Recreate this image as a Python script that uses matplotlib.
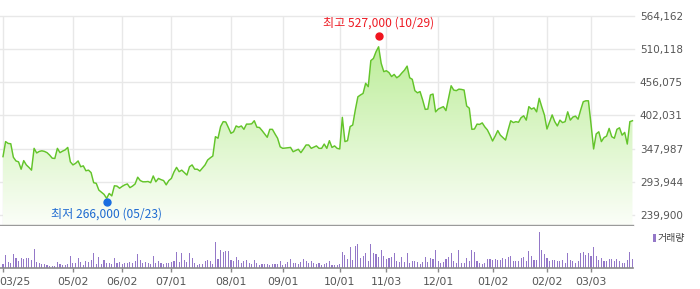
import numpy as np
import matplotlib
matplotlib.use("Agg")
import matplotlib.pyplot as plt
import matplotlib.transforms as mtransforms
from matplotlib.colors import LinearSegmentedColormap
from matplotlib.patches import Rectangle

# ---------------- data ----------------
tick_labels = ["03/25", "05/02", "06/02", "07/01", "08/01", "09/01",
               "10/01", "11/03", "12/01", "01/02", "02/02", "03/03"]
tick_index = [0, 27, 46, 65, 88, 108, 130, 148, 168, 189, 210, 227]

y_ticks = [239900, 293944, 347987, 402031, 456075, 510118, 564162]

close = [
    335000, 359500, 356500, 356000, 334000, 328000, 326500, 314500, 328500, 321500,
    317500, 313000, 348500, 341000, 343500, 344500, 343500, 341500, 337500, 332500,
    332000, 348500, 341500, 344000, 346000, 350000, 326500, 321500, 324000, 328000,
    318500, 320000, 312000, 313000, 309000, 292500, 291500, 280500, 277000, 273500,
    267000, 275000, 271000, 287500, 287000, 283500, 286500, 289000, 290500, 284500,
    287000, 290500, 301500, 296000, 294000, 294000, 294500, 292500, 303500, 294000,
    299500, 297500, 296000, 289000, 296000, 299500, 310000, 317500, 310500, 313000,
    309000, 305000, 318500, 321500, 314500, 314500, 311500, 316500, 321500, 329500,
    333000, 336000, 367500, 365000, 384000, 392000, 391500, 382500, 373000, 375500,
    385000, 383000, 385000, 379500, 388000, 388000, 388500, 393500, 383000, 382500,
    377500, 372000, 366500, 379500, 379500, 372000, 365000, 351000, 348500, 349000,
    349500, 350000, 343000, 345000, 347000, 341500, 347500, 354000, 354000, 348500,
    350500, 352500, 348500, 348500, 355500, 348500, 361000, 350000, 352500, 348500,
    347500, 399000, 359500, 361000, 384000, 386500, 411000, 432500, 435500, 438000,
    454500, 449000, 491500, 495000, 506000, 514000, 487000, 473500, 475000, 472000,
    465500, 469000, 463500, 466500, 471500, 476000, 482500, 463500, 461000, 442500,
    439000, 441000, 427500, 412000, 412500, 435500, 437000, 408000, 412500, 414500,
    416500, 410000, 430500, 450500, 443500, 442500, 445000, 444500, 443500, 417500,
    414000, 379500, 380000, 388000, 387500, 390000, 383500, 378500, 370000, 360500,
    368500, 377500, 370000, 366000, 362000, 378500, 393500, 390500, 392000, 391000,
    398500, 401500, 394500, 416500, 412500, 414500, 408000, 430000, 416000, 403000,
    380000, 391500, 403000, 392000, 385000, 394500, 390500, 392000, 408000, 394500,
    399500, 401000, 396000, 411000, 424500, 426000, 426000, 388000, 347500, 372000,
    375500, 359500, 366000, 368500, 381000, 367500, 365000, 379500, 382000, 370000,
    374500, 355500, 392000, 393500,
]

volume = [
    12, 39, 18, 15, 42, 30, 21, 30, 27, 30, 30, 24, 57, 18, 15, 12, 12, 9, 6, 6,
    6, 18, 12, 9, 9, 12, 36, 15, 15, 30, 18, 9, 21, 18, 24, 45, 12, 33, 12, 24,
    15, 15, 12, 30, 15, 18, 12, 15, 15, 18, 15, 21, 42, 24, 15, 18, 15, 12, 36, 15,
    21, 15, 12, 15, 15, 18, 21, 48, 18, 45, 24, 18, 45, 30, 15, 9, 12, 12, 21, 24,
    21, 12, 78, 27, 54, 48, 51, 51, 24, 21, 33, 24, 15, 21, 24, 15, 12, 24, 15, 9,
    12, 12, 12, 9, 12, 12, 12, 21, 9, 12, 18, 27, 15, 15, 12, 18, 27, 21, 15, 21,
    15, 12, 15, 9, 12, 15, 21, 9, 9, 9, 12, 48, 39, 27, 63, 24, 66, 72, 30, 36,
    45, 21, 72, 45, 42, 33, 54, 36, 27, 30, 33, 45, 21, 18, 33, 18, 45, 15, 21, 21,
    18, 12, 18, 33, 18, 30, 27, 54, 21, 15, 18, 27, 33, 45, 21, 15, 54, 15, 15, 30,
    21, 54, 48, 21, 15, 12, 15, 27, 27, 24, 27, 24, 24, 30, 27, 33, 36, 21, 21, 21,
    30, 33, 21, 51, 36, 24, 24, 108, 54, 42, 30, 21, 24, 24, 21, 21, 24, 15, 45, 24,
    21, 15, 21, 45, 48, 39, 45, 36, 63, 36, 24, 30, 21, 21, 27, 27, 21, 27, 21, 15,
    15, 24, 48, 27,
]

high_idx, high_val, high_label = 145, 527000, "최고 527,000 (10/29)"
low_idx, low_val, low_label = 40, 266000, "최저 266,000 (05/23)"
legend_label = "거래량"

# ---------------- figure ----------------
W, H = 700, 289
fig = plt.figure(figsize=(W / 100, H / 100), dpi=100)

def fy(py):
    return 1 - py / H

ax_left, ax_right = 0, 633.5
p_top, p_bot = 16, 225
v_top, v_bot = 226, 268

ax = fig.add_axes([ax_left / W, fy(p_bot), (ax_right - ax_left) / W, (p_bot - p_top) / H])
axv = fig.add_axes([ax_left / W, fy(v_bot), (ax_right - ax_left) / W, (v_bot - v_top) / H])

idx = np.arange(len(close))
xmin, xmax = -1.16, 243.4
ymax = 564162
ymin = 223600

grid_c = "#e8e8e8"
lbl_c = "#555555"

for a in (ax, axv):
    a.set_xlim(xmin, xmax)
    for s in a.spines.values():
        s.set_visible(False)

ax.set_ylim(ymin, ymax)

# gridlines
for v in y_ticks:
    ax.axhline(v, color=grid_c, lw=1.0, zorder=0, clip_on=False)
for t in tick_index:
    ax.axvline(t, color=grid_c, lw=1.0, zorder=0)

# gradient fill under line
poly = ax.fill_between(idx, close, ymin, color="none", lw=0)
cmap = LinearSegmentedColormap.from_list("g", ["#fbfef8", "#b3eb8b"])
grad = np.linspace(1, 0, 256).reshape(-1, 1)
im = ax.imshow(grad, extent=[xmin, xmax, ymin, ymax], aspect="auto",
               cmap=cmap, origin="upper", zorder=1, interpolation="bicubic")
im.set_clip_path(poly.get_paths()[0], transform=ax.transData)
ax.set_xlim(xmin, xmax)
ax.set_ylim(ymin, ymax)

ax.plot(idx, close, color="#63c42a", lw=1.05, zorder=3, solid_joinstyle="round")

# bottom line of price panel
ax.spines["bottom"].set_visible(True)
ax.spines["bottom"].set_color("#9a9a9a")
ax.spines["bottom"].set_linewidth(1.0)

ax.set_xticks([])
ax.yaxis.tick_right()
ax.set_yticks(y_ticks)
ax.set_yticklabels([f"{v:,}" for v in y_ticks])
ax.tick_params(axis="y", length=0, pad=4.6, labelsize=7.5, labelcolor=lbl_c)

# high / low markers
kfont = ["Noto Sans CJK KR", "DejaVu Sans"]
ax.plot([high_idx], [high_val], "o", ms=5, color="#f0141e", zorder=5,
        transform=ax.transData + mtransforms.ScaledTranslation(0, 2.5 / 100, fig.dpi_scale_trans),
        clip_on=False)
ax.plot([low_idx], [low_val], "o", ms=5, color="#1a6ee0", zorder=5,
        transform=ax.transData + mtransforms.ScaledTranslation(0, -3.0 / 100, fig.dpi_scale_trans),
        clip_on=False)
ax.annotate(high_label, xy=(high_idx, high_val), xytext=(0, 11.0), textcoords="offset points",
            ha="center", va="center", fontsize=8.7, color="#ee1c25", family=kfont,
            annotation_clip=False)
ax.annotate(low_label, xy=(low_idx, low_val), xytext=(0, -11.0), textcoords="offset points",
            ha="center", va="center", fontsize=8.7, color="#1f6bd1", family=kfont,
            annotation_clip=False)

# volume
axv.bar(idx, volume, width=0.42, color="#9478c8", lw=0, zorder=2)
axv.set_ylim(0, 126)
axv.set_yticks([])
axv.spines["bottom"].set_visible(True)
axv.spines["bottom"].set_color("#8a8a8a")
axv.spines["bottom"].set_linewidth(1.2)
axv.set_xticks(tick_index)
axv.set_xticklabels([""] + tick_labels[1:])
axv.tick_params(axis="x", direction="out", length=3.2, width=1.0, color="#8a8a8a",
                pad=3.2, labelsize=7.8, labelcolor=lbl_c)
# first date label sits shifted right, clipped at the left edge like the original
axv.annotate(tick_labels[0], xy=(tick_index[0], 0), xytext=(8.5, -9.9),
             textcoords="offset points", ha="center", va="center",
             fontsize=7.8, color=lbl_c, annotation_clip=False)

# legend
fig.patches.append(Rectangle((653 / W, fy(242)), 2.5 / W, 8 / H, transform=fig.transFigure,
                             color="#9478c8", lw=0))
fig.text(657.5 / W, fy(238.5), legend_label, ha="left", va="center", fontsize=7.2,
         color="#444444", family=kfont)

fig.savefig("out.png", dpi=100)
